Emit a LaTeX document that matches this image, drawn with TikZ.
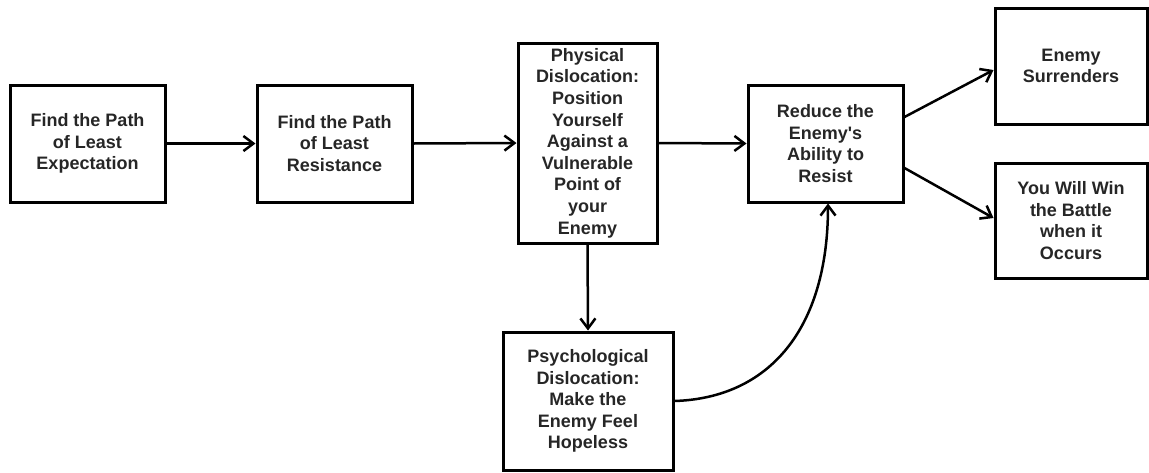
\documentclass[tikz,border=0pt]{standalone}
\usepackage{fontspec}
\setmainfont{Liberation Sans}
\usetikzlibrary{arrows.meta}
\definecolor{txt}{HTML}{262626}
\begin{document}
\begin{tikzpicture}[x=1pt,y=-1pt,
  box/.style={draw=black,line width=3pt,inner sep=0pt,align=center,
    text=txt,font=\fontsize{18}{21.6}\selectfont\bfseries},
  conn/.style={line width=2.5pt,-{Straight Barb[length=10pt,width=15pt,line width=2.5pt]}}]
\useasboundingbox (0,0) rectangle (1149,472);
\node[box,minimum width=155pt,minimum height=117pt] (b1) at (87.5,143.5) {Find the Path\\of Least\\Expectation};
\node[box,minimum width=155pt,minimum height=117pt] (b2) at (334.5,143.5) {Find the Path\\of Least\\Resistance};
\node[box,minimum width=139pt,minimum height=200pt] (b3) at (587.5,143) {Physical\\Dislocation:\\Position\\Yourself\\Against a\\Vulnerable\\Point of\\your\\Enemy};
\node[box,minimum width=155pt,minimum height=117pt] (b4) at (825.5,143.5) {Reduce the\\Enemy\textquotesingle s\\Ability to\\Resist};
\node[box,minimum width=152pt,minimum height=116pt] (b5) at (1071,66) {Enemy\\Surrenders};
\node[box,minimum width=152pt,minimum height=115pt] (b6) at (1071,220.5) {You Will Win\\the Battle\\when it\\Occurs};
\node[box,minimum width=170pt,minimum height=138pt] (b7) at (588,401) {Psychological\\Dislocation:\\Make the\\Enemy Feel\\Hopeless};
\draw[conn] (b1.east) -- (b2.west);
\draw[conn] (b2.east) -- (b3.west);
\draw[conn] (b3.east) -- (b4.west);
\draw[conn] (b3.south) -- (b7.north);
\draw[conn] ([yshift=26.5pt]b4.east) -- ([yshift=-4pt]b5.west);
\draw[conn] ([yshift=-24.5pt]b4.east) -- ([yshift=2.5pt]b6.west);
\draw[conn] (b7.east) .. controls +(95,-3) and +(0,125) .. ([xshift=2.5pt]b4.south);
\end{tikzpicture}
\end{document}
